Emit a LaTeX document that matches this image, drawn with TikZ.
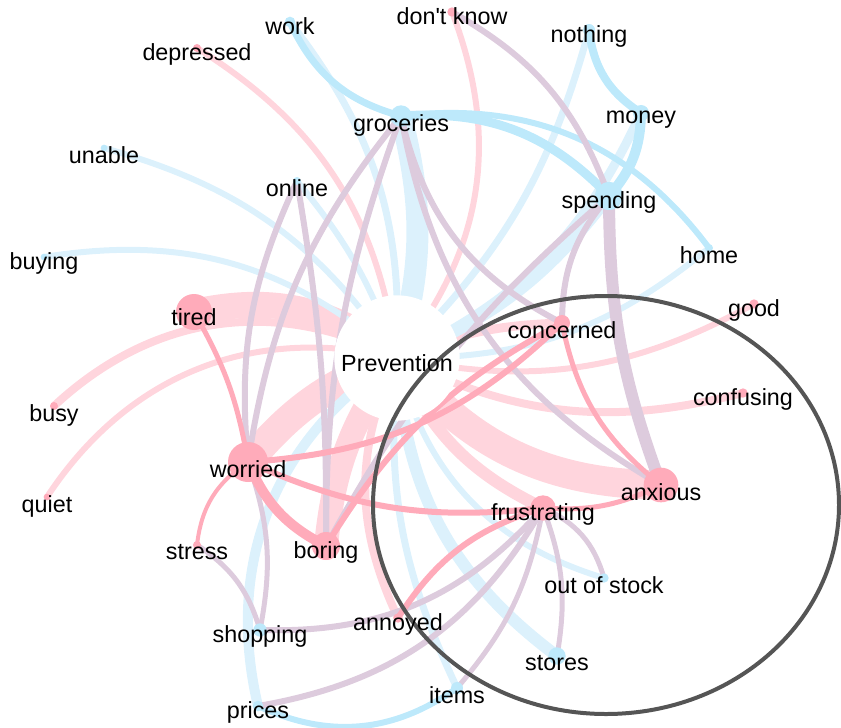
\documentclass[tikz,border=0pt]{standalone}
\usepackage{fontspec}
\setmainfont{Liberation Sans}[Ligatures=TeXOff]
\usetikzlibrary{positioning}
\definecolor{pinkL}{HTML}{FFD5DD}
\definecolor{pinkD}{HTML}{FFABBA}
\definecolor{blueL}{HTML}{DCF1FC}
\definecolor{blueD}{HTML}{BDE9FB}
\definecolor{mauve}{HTML}{DDCBDD}
\definecolor{ring}{HTML}{555555}
\tikzset{
  pflow/.style={draw=pinkL, line width=#1},
  rflow/.style={draw=pinkD, line width=#1},
  bflow/.style={draw=blueL, line width=#1},
  cflow/.style={draw=blueD, line width=#1},
  mflow/.style={draw=mauve, line width=#1},
  pdot/.style={circle, fill=pinkD, inner sep=0pt, minimum size=#1},
  bdot/.style={circle, fill=blueD, inner sep=0pt, minimum size=#1},
  lbl/.style={font=\fontsize{17.5}{20}\selectfont, inner sep=0pt, yshift=-5pt}
}

\begin{document}
\begin{tikzpicture}[x=0.75pt, y=0.75pt]
  \useasboundingbox (0,0) rectangle (841,-727);

  % word positions
  \coordinate (prev) at (397,-358);
  \coordinate (groceries) at (401,-116);
  \coordinate (work) at (290,-22);
  \coordinate (depressed) at (197,-48);
  \coordinate (dontknow) at (452,-12);
  \coordinate (nothing) at (589,-30);
  \coordinate (money) at (641,-113);
  \coordinate (spending) at (609,-196);
  \coordinate (home) at (709,-248);
  \coordinate (good) at (754,-304);
  \coordinate (concerned) at (562,-323);
  \coordinate (confusing) at (743,-393);
  \coordinate (anxious) at (661,-485);
  \coordinate (frustrating) at (543,-508);
  \coordinate (outofstock) at (604,-578);
  \coordinate (stores) at (557,-656);
  \coordinate (items) at (457,-688);
  \coordinate (annoyed) at (398,-618);
  \coordinate (prices) at (258,-706);
  \coordinate (shopping) at (260,-630);
  \coordinate (boring) at (326,-546);
  \coordinate (stress) at (197,-545);
  \coordinate (worried) at (248,-462);
  \coordinate (tired) at (194,-312);
  \coordinate (busy) at (54,-406);
  \coordinate (quiet) at (47,-497);
  \coordinate (buying) at (44,-257);
  \coordinate (unable) at (104,-148);
  \coordinate (online) at (297,-181);

  % links to Prevention
  \draw[pflow=19.5pt] (tired) to[bend left=25] (prev);
  \draw[pflow=22pt] (worried) to[bend left=15] (prev);
  \draw[pflow=18pt] (boring) to[bend left=15] (prev);
  \draw[pflow=22pt] (prev) to[bend right=25] (anxious);
  \draw[pflow=9pt] (prev) to[bend right=20] (frustrating);
  \draw[pflow=6.75pt] (prev) to[bend left=10] (concerned);
  \draw[pflow=6pt] (busy) to[bend left=35] (prev);
  \draw[pflow=4.5pt] (quiet) to[bend left=35] (prev);
  \draw[pflow=4.5pt] (depressed) to[bend left=25] (prev);
  \draw[pflow=4.5pt] (dontknow) to[bend left=30] (prev);
  \draw[pflow=4.5pt] (good) to[bend left=20] (prev);
  \draw[pflow=6pt] (confusing) to[bend left=20] (prev);
  \draw[pflow=6pt] (prev) to[bend right=25] (annoyed);
  \draw[bflow=16.5pt] (groceries) to[bend left=15] (prev);
  \draw[bflow=9pt] (spending) to[bend left=15] (prev);
  \draw[bflow=5.25pt] (nothing) to[bend left=15] (prev);
  \draw[bflow=6.75pt] (money) to[bend left=20] (prev);
  \draw[bflow=5.25pt] (work) to[bend left=20] (prev);
  \draw[bflow=4.5pt] (unable) to[bend left=20] (prev);
  \draw[bflow=4.5pt] (buying) to[bend left=25] (prev);
  \draw[bflow=4.5pt] (online) to[bend left=10] (prev);
  \draw[bflow=4.5pt] (home) to[bend left=20] (prev);
  \draw[bflow=4.5pt] (prev) to[bend right=30] (outofstock);
  \draw[bflow=9pt] (prev) to[bend right=25] (stores);
  \draw[bflow=5.25pt] (prev) to[bend right=15] (items);
  \draw[bflow=7.5pt] (prev) to[bend right=35] (prices);

  % links between words
  \draw[cflow=4.5pt] (prices) to[bend right=30] (items);
  \draw[cflow=5.25pt] (work) to[bend right=25] (groceries);
  \draw[cflow=6.75pt] (groceries) to[bend left=25] (spending);
  \draw[cflow=4.5pt] (groceries) to[bend left=30] (home);
  \draw[cflow=6pt] (nothing) to[bend right=25] (money);
  \draw[cflow=7.5pt] (money) to[bend left=20] (spending);
  \draw[mflow=4.5pt] (dontknow) to[bend left=20] (spending);
  \draw[mflow=9pt] (spending) to[bend right=10] (anxious);
  \draw[mflow=4.5pt] (spending) to[bend right=20] (concerned);
  \draw[mflow=4.5pt] (spending) to[bend right=10] (boring);
  \draw[mflow=4.5pt] (groceries) to[bend right=25] (anxious);
  \draw[mflow=4.5pt] (groceries) to[bend right=25] (concerned);
  \draw[mflow=4.5pt] (groceries) to[bend right=15] (worried);
  \draw[mflow=4.5pt] (groceries) to[bend right=10] (boring);
  \draw[mflow=4.5pt] (online) to[bend right=15] (worried);
  \draw[mflow=4.5pt] (online) to[bend left=5] (boring);
  \draw[mflow=3.75pt] (stress) to[bend left=20] (shopping);
  \draw[mflow=3.75pt] (shopping) to[bend right=15] (worried);
  \draw[mflow=4.5pt] (shopping) to[bend right=25] (frustrating);
  \draw[mflow=4.5pt] (prices) to[bend right=25] (frustrating);
  \draw[mflow=3.75pt] (items) to[bend right=15] (frustrating);
  \draw[mflow=3.75pt] (stores) to[bend right=15] (frustrating);
  \draw[mflow=3.75pt] (outofstock) to[bend right=25] (frustrating);
  \draw[rflow=3.75pt] (tired) to[bend left=10] (worried);
  \draw[rflow=7.5pt] (worried) to[bend right=20] (boring);
  \draw[rflow=4.5pt] (worried) to[bend right=20] (concerned);
  \draw[rflow=4.5pt] (worried) to[bend right=15] (frustrating);
  \draw[rflow=3.75pt] (frustrating) to[bend right=15] (anxious);
  \draw[rflow=4.5pt] (boring) to[bend left=15] (concerned);
  \draw[rflow=3.75pt] (concerned) to[bend right=20] (anxious);
  \draw[rflow=4.5pt] (annoyed) to[bend left=20] (frustrating);
  \draw[rflow=3pt] (stress) to[bend left=25] (worried);

  % centre and cluster ring
  \node[circle, fill=white, minimum size=94pt, inner sep=0pt] (hub) at (prev) {};
  \draw[ring, line width=3pt] (606,-505) ellipse (233 and 209);

  % dots
  \node[pdot=27pt] (d-tired) at (tired) {};
  \node[pdot=30pt] (d-worried) at (worried) {};
  \node[pdot=21pt] (d-boring) at (boring) {};
  \node[pdot=26pt] (d-anxious) at (anxious) {};
  \node[pdot=19pt] (d-frustrating) at (frustrating) {};
  \node[pdot=12pt] (d-concerned) at (concerned) {};
  \node[pdot=6pt] (d-depressed) at (depressed) {};
  \node[pdot=7pt] (d-dontknow) at (dontknow) {};
  \node[pdot=7pt] (d-good) at (good) {};
  \node[pdot=7pt] (d-confusing) at (confusing) {};
  \node[pdot=7pt] (d-annoyed) at (annoyed) {};
  \node[pdot=6pt] (d-stress) at (stress) {};
  \node[pdot=6pt] (d-busy) at (busy) {};
  \node[pdot=5pt] (d-quiet) at (quiet) {};
  \node[bdot=16pt] (d-groceries) at (groceries) {};
  \node[bdot=21pt] (d-spending) at (spending) {};
  \node[bdot=12pt] (d-money) at (money) {};
  \node[bdot=9pt] (d-nothing) at (nothing) {};
  \node[bdot=8pt] (d-work) at (work) {};
  \node[bdot=6pt] (d-home) at (home) {};
  \node[bdot=13pt] (d-stores) at (stores) {};
  \node[bdot=10pt] (d-shopping) at (shopping) {};
  \node[bdot=9pt] (d-items) at (items) {};
  \node[bdot=8pt] (d-prices) at (prices) {};
  \node[bdot=7pt] (d-outofstock) at (outofstock) {};
  \node[bdot=6pt] (d-online) at (online) {};
  \node[bdot=5pt] (d-buying) at (buying) {};
  \node[bdot=5pt] (d-unable) at (unable) {};

  % words
  \node[lbl, yshift=1pt] (t-prev) at (prev) {Prevention};
  \node[lbl, yshift=-2pt] (t-groceries) at (groceries) {groceries};
  \node[lbl, yshift=2pt] (t-work) at (work) {work};
  \node[lbl] (t-depressed) at (depressed) {depressed};
  \node[lbl, yshift=2pt] (t-dontknow) at (dontknow) {don't know};
  \node[lbl] (t-nothing) at (nothing) {nothing};
  \node[lbl] (t-money) at (money) {money};
  \node[lbl] (t-spending) at (spending) {spending};
  \node[lbl] (t-home) at (home) {home};
  \node[lbl] (t-good) at (good) {good};
  \node[lbl] (t-concerned) at (concerned) {concerned};
  \node[lbl] (t-confusing) at (confusing) {confusing};
  \node[lbl] (t-anxious) at (anxious) {anxious};
  \node[lbl] (t-frustrating) at (frustrating) {frustrating};
  \node[lbl] (t-outofstock) at (outofstock) {out of stock};
  \node[lbl] (t-stores) at (stores) {stores};
  \node[lbl] (t-items) at (items) {items};
  \node[lbl] (t-annoyed) at (annoyed) {annoyed};
  \node[lbl] (t-prices) at (prices) {prices};
  \node[lbl] (t-shopping) at (shopping) {shopping};
  \node[lbl] (t-boring) at (boring) {boring};
  \node[lbl] (t-stress) at (stress) {stress};
  \node[lbl] (t-worried) at (worried) {worried};
  \node[lbl, yshift=1pt] (t-tired) at (tired) {tired};
  \node[lbl, yshift=-2pt] (t-busy) at (busy) {busy};
  \node[lbl, yshift=-2pt] (t-quiet) at (quiet) {quiet};
  \node[lbl] (t-buying) at (buying) {buying};
  \node[lbl] (t-unable) at (unable) {unable};
  \node[lbl] (t-online) at (online) {online};
\end{tikzpicture}
\end{document}
